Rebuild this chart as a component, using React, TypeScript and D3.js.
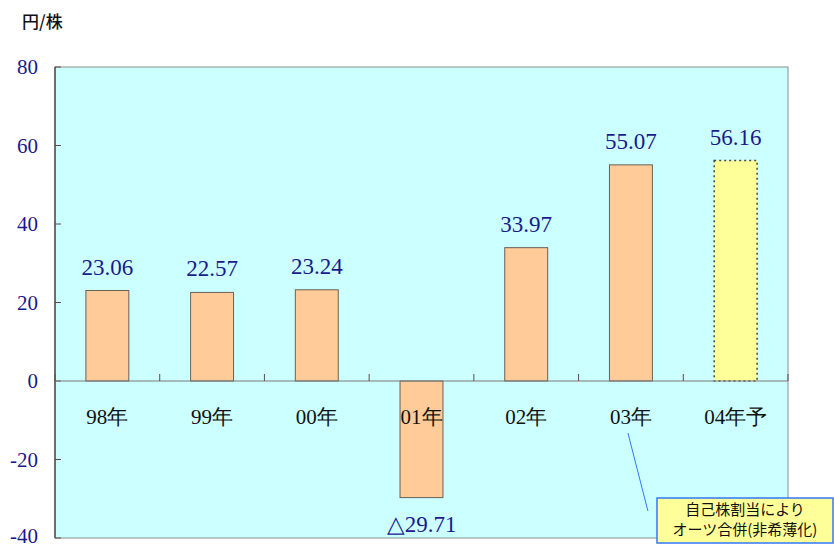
import { useEffect, useRef } from 'react'
import * as d3 from 'd3'

const W = 834
const H = 547
const MARGIN = { top: 67, right: 46, bottom: 9, left: 55 }

const categories = ['98年', '99年', '00年', '01年', '02年', '03年', '04年予']
const values = [23.06, 22.57, 23.24, -29.71, 33.97, 55.07, 56.16]
const valueLabels = ['23.06', '22.57', '23.24', '△29.71', '33.97', '55.07', '56.16']
const forecast = [false, false, false, false, false, false, true]
const yTicks = [-40, -20, 0, 20, 40, 60, 80]
const noteLines = ['自己株割当により', 'オーツ合併(非希薄化)']

const SERIF = "'Liberation Serif', 'Times New Roman', serif"
const SANS = "'Noto Sans CJK JP', sans-serif"

export default function App() {
  const svgRef = useRef<SVGSVGElement>(null)

  useEffect(() => {
    const svgEl = svgRef.current
    if (!svgEl) return
    const svg = d3.select(svgEl)
    svg.selectAll('*').remove()

    const innerWidth = W - MARGIN.left - MARGIN.right
    const innerHeight = H - MARGIN.top - MARGIN.bottom
    const g = svg.append('g').attr('transform', `translate(${MARGIN.left},${MARGIN.top})`)

    const x = d3.scaleBand<string>().domain(categories).range([0, innerWidth]).paddingInner(0.59).paddingOuter(0.295)
    const y = d3.scaleLinear([-40, 80], [innerHeight, 0])

    // ── Plot area ──────────────────────────────────────────────────────────────
    g.append('rect')
      .attr('width', innerWidth).attr('height', innerHeight)
      .attr('fill', '#ccffff').attr('stroke', '#8c8c8c').attr('stroke-width', 1)

    // ── Y axis ─────────────────────────────────────────────────────────────────
    g.append('line')
      .attr('x1', 0).attr('x2', 0).attr('y1', 0).attr('y2', innerHeight)
      .attr('stroke', '#5a4f48').attr('stroke-width', 1.5)
    yTicks.forEach(t => {
      g.append('line')
        .attr('x1', 0).attr('x2', 6).attr('y1', y(t)).attr('y2', y(t))
        .attr('stroke', '#5a4f48').attr('stroke-width', 1)
      g.append('text')
        .attr('x', -17).attr('y', Math.min(y(t), innerHeight - 2)).attr('dy', '0.35em')
        .attr('text-anchor', 'end').style('font-family', SERIF).attr('font-size', 21)
        .attr('fill', '#1a1a8c')
        .text(t)
    })

    // ── Bars ───────────────────────────────────────────────────────────────────
    categories.forEach((c, i) => {
      const v = values[i]
      const bx = x(c)!
      g.append('rect')
        .attr('x', bx).attr('width', x.bandwidth())
        .attr('y', y(Math.max(0, v))).attr('height', Math.abs(y(v) - y(0)))
        .attr('fill', forecast[i] ? '#ffff99' : '#ffcc99')
        .attr('stroke', forecast[i] ? '#444' : '#6b5f58')
        .attr('stroke-width', forecast[i] ? 1.5 : 1)
        .attr('stroke-dasharray', forecast[i] ? '2,3' : null)

      const ly = v >= 0 ? y(v) - 24 : y(v) + 26
      g.append('text')
        .attr('x', bx + x.bandwidth() / 2).attr('y', ly).attr('dy', '0.35em')
        .attr('text-anchor', 'middle').style('font-family', SERIF).attr('font-size', 23)
        .attr('fill', '#1a1a8c')
        .text(valueLabels[i])
    })

    // ── X axis (zero line) ─────────────────────────────────────────────────────
    g.append('line')
      .attr('x1', 0).attr('x2', innerWidth).attr('y1', y(0)).attr('y2', y(0))
      .attr('stroke', '#7a7a7a').attr('stroke-width', 1)
    const step = x.step()
    d3.range(categories.length + 1).forEach(k => {
      g.append('line')
        .attr('x1', k * step).attr('x2', k * step).attr('y1', y(0)).attr('y2', y(0) - 7)
        .attr('stroke', '#5a4f48').attr('stroke-width', 1)
    })
    categories.forEach(c => {
      g.append('text')
        .attr('x', x(c)! + x.bandwidth() / 2).attr('y', y(0) + 36).attr('dy', '0.35em')
        .attr('text-anchor', 'middle').style('font-family', SERIF).attr('font-size', 21)
        .attr('fill', '#111')
        .text(c)
    })

    // ── Unit label ─────────────────────────────────────────────────────────────
    svg.append('text')
      .attr('x', 22).attr('y', 22).attr('dy', '0.35em')
      .style('font-family', SANS).attr('font-size', 17).attr('font-weight', 500)
      .attr('fill', '#111')
      .text('円/株')

    // ── Annotation ─────────────────────────────────────────────────────────────
    const c5 = x(categories[5])! + x.bandwidth() / 2
    svg.append('line')
      .attr('x1', MARGIN.left + c5 - 3).attr('y1', MARGIN.top + y(0) + 52)
      .attr('x2', MARGIN.left + c5 + 17).attr('y2', MARGIN.top + y(0) + 130)
      .attr('stroke', '#3377ff').attr('stroke-width', 1)
    const box = svg.append('g').attr('transform', 'translate(657,498)')
    box.append('rect')
      .attr('width', 176).attr('height', 45)
      .attr('fill', '#ffff99').attr('stroke', '#3377ff').attr('stroke-width', 1.5)
    noteLines.forEach((t, i) => {
      box.append('text')
        .attr('x', 88).attr('y', 12 + i * 20).attr('dy', '0.35em')
        .attr('text-anchor', 'middle').style('font-family', SANS).attr('font-size', 15)
        .attr('fill', '#111')
        .text(t)
    })
  }, [])

  return (
    <svg
      ref={svgRef}
      width={W}
      height={H}
      style={{ position: 'absolute', left: 0, top: 0, background: '#fff' }}
    />
  )
}
